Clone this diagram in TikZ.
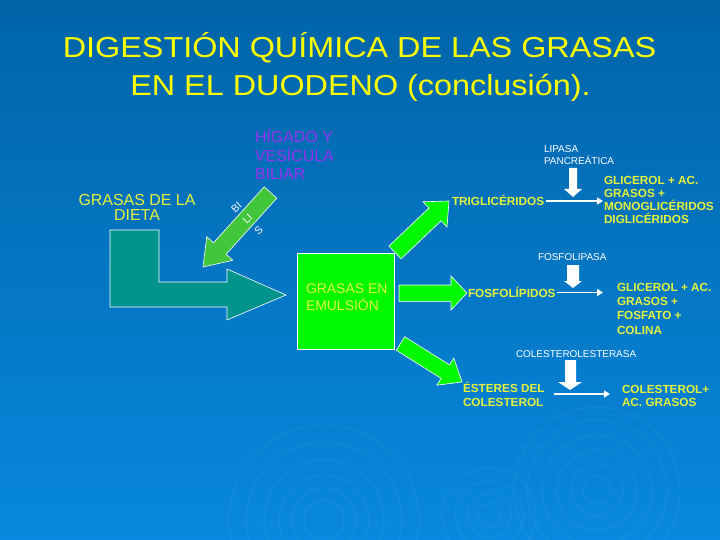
\documentclass[tikz,border=0pt]{standalone}
\usepackage{fontspec}
\setmainfont{Liberation Sans}
\newfontfamily\titlefont[FakeStretch=1.12]{Liberation Sans}
\usetikzlibrary{arrows.meta,calc}
\definecolor{bgtop}{RGB}{0,100,168}
\definecolor{bgmid}{RGB}{0,110,184}
\definecolor{bgbot}{RGB}{8,136,222}
\definecolor{titleyel}{RGB}{255,255,0}
\definecolor{txtyel}{RGB}{228,242,60}
\definecolor{purp}{RGB}{150,50,240}
\definecolor{tealarr}{RGB}{0,148,140}
\definecolor{bilegreen}{RGB}{66,198,60}
\definecolor{boxgreen}{RGB}{0,248,0}
\begin{document}
\begin{tikzpicture}[x=1bp,y=-1bp,
  lbl/.style={inner sep=0pt, outer sep=0pt},
  prod/.style={lbl, text=txtyel, font=\bfseries\fontsize{11.8}{13.5}\selectfont, align=left, anchor=base west},
  enz/.style={lbl, text=white, font=\fontsize{10}{13}\selectfont, align=left, anchor=base west},
  thinarr/.style={draw=white, line width=1.5bp, -{Triangle[length=6bp,width=7bp]}},
  blockw/.style={fill=white, draw=none},
  shapeedge/.style={draw=white, line width=0.6bp},
  ripple/.style={draw=white, draw opacity=0.03, line width=2.5bp}
]
\useasboundingbox (0,0) rectangle (720,540);
\shade[top color=bgtop, middle color=bgmid, bottom color=bgbot] (0,0) rectangle (720,540);
\begin{scope}
\clip (0,0) rectangle (720,540);
\foreach \r in {20,32,45,60,78,95} \draw[ripple] (324,520) circle (\r);
\foreach \r in {12,22,34,47} \draw[ripple] (489,515) circle (\r);
\foreach \r in {14,26,40,55,70,83} \draw[ripple] (597,490) circle (\r);
\end{scope}

% title
\node[lbl, anchor=base, text=titleyel, font=\titlefont\fontsize{29}{38.5}\selectfont] (title1) at (359.5,57.5) {DIGESTIÓN QUÍMICA DE LAS GRASAS};
\node[lbl, anchor=base, text=titleyel, font=\titlefont\fontsize{29}{38.5}\selectfont] (title2) at (360.5,96) {EN EL DUODENO (conclusión).};

% left labels (base anchor = last line)
\node[lbl, anchor=base, align=center, text=txtyel, font=\fontsize{16}{16}\selectfont] (dieta) at (137,221) {GRASAS DE LA\\DIETA};
\node[lbl, anchor=base west, align=left, text=purp, font=\fontsize{16}{19}\selectfont] (higado) at (255,180) {HÍGADO Y\\VESÍCULA\\BILIAR};

% teal L arrow
\draw[shapeedge, fill=tealarr] (110,230) -- (159,230) -- (159,282) -- (227,282) -- (227,269) -- (286,295) -- (227,320) -- (227,307) -- (110,307) -- cycle;
% bile arrow
\draw[shapeedge, fill=bilegreen] (264.2,186.8) -- (276.8,198.2) -- (226.1,254.2) -- (232.8,260.3) -- (203,267) -- (206.8,236.7) -- (213.5,242.8) -- cycle;
\node[lbl, rotate=44, align=center, text=white, font=\fontsize{10.5}{16}\selectfont] (bilis) at (247.5,219) {BI\\LI\\S};

% green arrows from the box
\draw[shapeedge, fill=boxgreen] (388.9,246.1) -- (401.1,258.9) -- (441.1,220.8) -- (447,227) -- (449,201) -- (423,201.8) -- (428.9,208) -- cycle;
\draw[shapeedge, fill=boxgreen] (399,285) -- (451,285) -- (451,276) -- (467,293) -- (451,310) -- (451,301.6) -- (399,301.6) -- cycle;
\draw[shapeedge, fill=boxgreen] (404.7,336.7) -- (396.3,350.3) -- (441.1,378.4) -- (436.8,385.2) -- (462,382) -- (453.8,358) -- (449.5,364.8) -- cycle;

% box
\node[draw=white, line width=0.6bp, fill=boxgreen, minimum width=97bp, minimum height=96bp, inner sep=0pt, anchor=north west] (box) at (297,253) {};
\node[lbl, anchor=base west, align=left, text=txtyel, font=\fontsize{14}{17}\selectfont] (emul) at (306,310) {GRASAS EN\\EMULSIÓN};

% reaction 1
\node[prod] (trig) at (452,206) {TRIGLICÉRIDOS};
\node[enz] (lipasa) at (544,165) {LIPASA\\PANCREÁTICA};
\node[prod, font=\bfseries\fontsize{11.8}{13.3}\selectfont] (prodA) at (604,224) {GLICEROL + AC.\\GRASOS +\\MONOGLICÉRIDOS\\DIGLICÉRIDOS};
\fill[blockw] (569,168) -- (577,168) -- (577,189) -- (582,189) -- (573,197) -- (564,189) -- (569,189) -- cycle;
\draw[thinarr] ($(trig.base east)+(2,-5)$) -- ($(prodA.west |- trig.base east)+(-1,-5)$);

% reaction 2
\node[enz] (fosfolipasa) at (538,261) {FOSFOLIPASA};
\node[prod] (fosf) at (468,297) {FOSFOLÍPIDOS};
\node[prod, font=\bfseries\fontsize{11.8}{14.3}\selectfont] (prodB) at (617,334) {GLICEROL + AC.\\GRASOS +\\FOSFATO +\\COLINA};
\fill[blockw] (567,265) -- (579,265) -- (579,281) -- (582,281) -- (573,288) -- (564,281) -- (567,281) -- cycle;
\draw[thinarr] ($(fosf.base east)+(1,-4.5)$) -- ($(prodB.west |- fosf.base east)+(-14,-4.5)$);

% reaction 3
\node[enz] (colesterasa) at (516,357) {COLESTEROLESTERASA};
\node[prod, font=\bfseries\fontsize{11.8}{14}\selectfont] (ester) at (463,406) {ÉSTERES DEL\\COLESTEROL};
\node[prod, font=\bfseries\fontsize{11.8}{13}\selectfont] (prodC) at (622,406) {COLESTEROL+\\AC. GRASOS};
\fill[blockw] (565,360) -- (576,360) -- (576,382) -- (582,382) -- (570,390) -- (558,382) -- (565,382) -- cycle;
\draw[thinarr] ($(ester.base east)+(9,-12)$) -- ($(prodC.west |- ester.base east)+(-12,-12)$);
\end{tikzpicture}
\end{document}
